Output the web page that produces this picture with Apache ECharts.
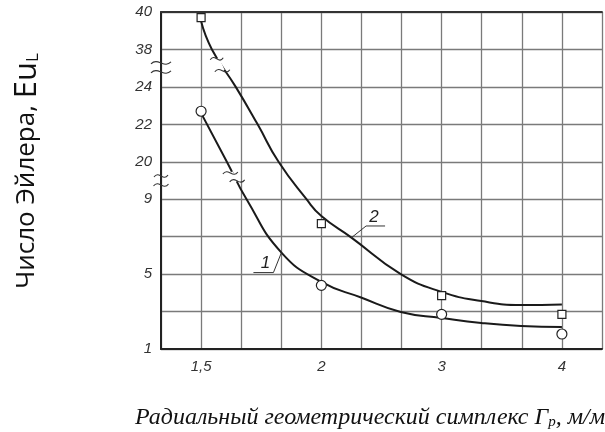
<!DOCTYPE html>
<html><head><meta charset="utf-8">
<script src="https://cdn.jsdelivr.net/npm/echarts@6/dist/echarts.min.js"></script>
<style>html,body{margin:0;padding:0;background:#fff}#c{width:605px;height:432px}</style>
</head><body><div id="c"></div>
<script>
// ---- tick labels ----
const xTickValues = [1.5, 2, 3, 4];
const xTickLabels = ['1,5', '2', '3', '4'];
const yTickLabels = ['1', '', '5', '', '9', '20', '22', '24', '38', '40'];

// ---- measured points ----
const pointX  = [1.5, 2, 3, 4];
const circleY = [22.7, 4.4, 2.85, 1.8];   // curve 1 markers
const squareY = [39.7, 7.7, 3.85, 2.85];  // curve 2 markers

// ---- fitted curves ----
const curve1X = [1.5, 1.607, 1.689, 1.834, 2, 2.33, 2.66, 3, 3.33, 3.66, 4];
const curve1Y = [22.6, 20, 9, 6.15, 4.58, 3.75, 2.98, 2.66, 2.39, 2.23, 2.18];
const curve2X = [1.5, 1.545, 1.644, 1.735, 1.822, 1.938, 2, 2.25, 2.66, 3, 3.33, 3.66, 4];
const curve2Y = [39.5, 38, 24, 22, 20, 9, 8.1, 6.95, 5, 4.05, 3.56, 3.35, 3.38];

// ---- broken-axis scales (one grid cell per step) ----
const ySegments = [{from: 1, to: 9, start: 0, step: 2}, {from: 20, to: 24, start: 5, step: 2}, {from: 38, to: 40, start: 8, step: 2}];
const xSegments = [{from: 1.5, to: 2, start: 1, step: 1 / 6}, {from: 2, to: 4, start: 4, step: 1 / 3}];
function seg(v, segs) {
  for (const s of segs) if (v >= s.from - 1e-9 && v <= s.to + 1e-9) return s.start + (v - s.from) / s.step;
  let best = segs[0], d = Infinity;
  for (const s of segs) { const dd = Math.min(Math.abs(v - s.from), Math.abs(v - s.to)); if (dd < d) { d = dd; best = s; } }
  return best.start + (v - best.from) / best.step;
}
const xs = v => seg(v, xSegments), ys = v => seg(v, ySegments);
const pairs = (X, Y) => X.map((x, i) => [xs(x), ys(Y[i])]);

const xLabelMap = {};
xTickValues.forEach((v, i) => { xLabelMap[Math.round(xs(v))] = xTickLabels[i]; });

const chart = echarts.init(document.getElementById('c'));
const gridCol = '#7a7a7a';
const serif = {fontFamily: 'Liberation Serif', fontStyle: 'italic', fontWeight: 'normal', color: '#111'};
chart.setOption({
  backgroundColor: '#fff',
  animation: false,
  grid: {left: 161, top: 12, right: 1, bottom: 83},
  title: {
    text: '{a|Радиальный геометрический симплекс Γ}{s|p}{a|, м/м}',
    left: 130, top: 400,
    textStyle: {
      fontWeight: 'normal',
      rich: {
        a: Object.assign({fontSize: 24}, serif),
        s: Object.assign({fontSize: 15, padding: [10, 0, 0, 0]}, serif)
      }
    }
  },
  xAxis: [{
    type: 'value', min: 0, max: 11, interval: 1,
    axisLine: {show: true, lineStyle: {color: '#222', width: 2}},
    axisTick: {show: false},
    splitLine: {show: true, lineStyle: {color: gridCol, width: 1.3}},
    axisLabel: {
      margin: 10, fontFamily: 'Liberation Sans', fontStyle: 'italic', fontSize: 15, color: '#333',
      formatter: v => xLabelMap[v] || ''
    }
  }, {
    type: 'value', min: 0, max: 11, interval: 1, position: 'top',
    axisLine: {show: true, lineStyle: {color: '#333', width: 1.8}},
    axisTick: {show: false}, axisLabel: {show: false}, splitLine: {show: false}
  }],
  yAxis: {
    type: 'value', min: 0, max: 9, interval: 1,
    axisLine: {show: true, lineStyle: {color: '#222', width: 2}},
    axisTick: {show: false},
    splitLine: {show: true, lineStyle: {color: gridCol, width: 1.3}},
    axisLabel: {
      margin: 9, fontFamily: 'Liberation Sans', fontStyle: 'italic', fontSize: 15, color: '#333',
      formatter: v => yTickLabels[v] || ''
    }
  },
  series: [
    {type: 'line', data: pairs(curve1X, curve1Y), smooth: 0.5, showSymbol: false, z: 3,
     lineStyle: {color: '#1a1a1a', width: 2}},
    {type: 'line', data: pairs(curve2X, curve2Y), smooth: 0.5, showSymbol: false, z: 3,
     lineStyle: {color: '#1a1a1a', width: 2}},
    {type: 'scatter', data: pairs(pointX, circleY), symbol: 'circle', symbolSize: 10, z: 6,
     itemStyle: {color: '#fff', borderColor: '#222', borderWidth: 1.2, opacity: 1}},
    {type: 'scatter', data: pairs(pointX, squareY), symbol: 'rect', symbolSize: 8, z: 6,
     itemStyle: {color: '#fff', borderColor: '#222', borderWidth: 1.2, opacity: 1}}
  ]
});

// ---- decorations: break marks, leader labels ----
const P = (cx, py) => chart.convertToPixel({gridIndex: 0}, [cx, py]);
function tilde(c, w) {
  return {type: 'bezierCurve', z: 20,
    shape: {x1: c[0] - w / 2, y1: c[1] + 1, cpx1: c[0] - w / 6, cpy1: c[1] - 6, cpx2: c[0] + w / 6, cpy2: c[1] + 6, x2: c[0] + w / 2, y2: c[1] - 1},
    style: {stroke: '#333', lineWidth: 1.1, fill: null}};
}
function gap(a, b) {
  return {type: 'line', z: 15, shape: {x1: a[0], y1: a[1], x2: b[0], y2: b[1]}, style: {stroke: '#fff', lineWidth: 5}};
}
const g = [];
// axis breaks
g.push(tilde(P(0, 7.64), 20), tilde(P(0, 7.40), 20));
g.push(tilde(P(0, 4.62), 14), tilde(P(0, 4.38), 15));
// curve 2 break
const c2a = P(1.39, 7.75), c2b = P(1.53, 7.43);
g.push(gap(c2a, c2b), tilde(c2a, 13), tilde(c2b, 15));
// curve 1 break
const c1a = P(1.73, 4.70), c1b = P(1.90, 4.49);
g.push(gap(c1a, c1b), tilde(c1a, 15), tilde(c1b, 15));
// leader "2"
const a2 = P(xs(2.247), ys(6.93));
g.push({type: 'polyline', z: 20, shape: {points: [a2, [a2[0] + 15, a2[1] - 12], [a2[0] + 34, a2[1] - 12]]}, style: {stroke: '#333', lineWidth: 1, fill: null}});
g.push({type: 'text', z: 20, x: a2[0] + 23, y: a2[1] - 21, style: {text: '2', fontFamily: 'Liberation Sans', fontStyle: 'italic', fontSize: 17, fill: '#222', align: 'center', verticalAlign: 'middle'}});
// leader "1"
const a1 = P(xs(1.834), ys(6.15));
g.push({type: 'polyline', z: 20, shape: {points: [a1, [a1[0] - 8, a1[1] + 20], [a1[0] - 28, a1[1] + 20]]}, style: {stroke: '#333', lineWidth: 1, fill: null}});
g.push({type: 'text', z: 20, x: a1[0] - 16, y: a1[1] + 11, style: {text: '1', fontFamily: 'Liberation Sans', fontStyle: 'italic', fontSize: 17, fill: '#222', align: 'center', verticalAlign: 'middle'}});
// y axis title (rotated)
g.push({type: 'text', z: 20, x: 27, y: 171, rotation: Math.PI / 2,
  style: {text: '{a|Число Эйлера, }{b|Eu}{c|L}', align: 'center', verticalAlign: 'middle',
    rich: {
      a: {fontFamily: 'Open Sans', fontSize: 26, fill: '#111', color: '#111'},
      b: {fontFamily: 'Open Sans', fontSize: 31, fill: '#111', color: '#111'},
      c: {fontFamily: 'Open Sans', fontSize: 17, fill: '#111', color: '#111', padding: [13, 0, 0, 0]}
    }}});
chart.setOption({graphic: g});
</script></body></html>
